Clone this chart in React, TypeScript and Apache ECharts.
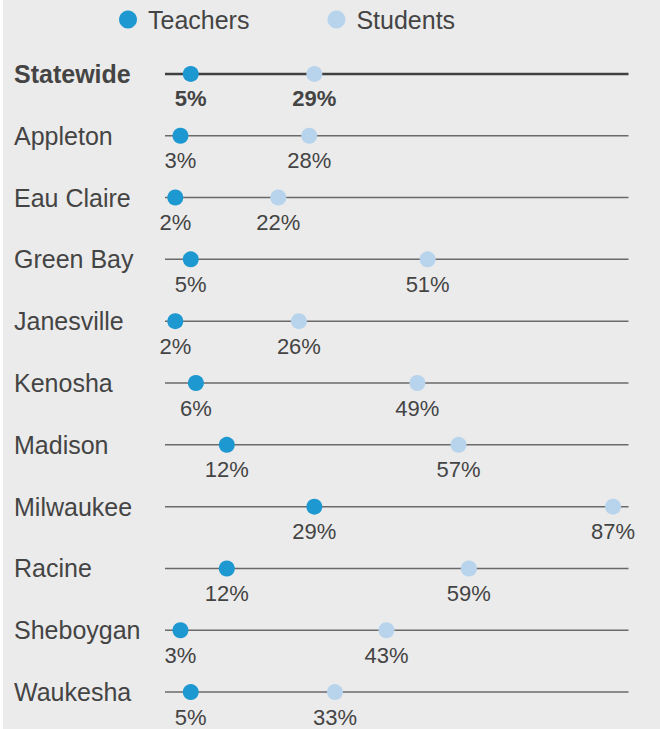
import React, { useEffect, useRef } from "react";
import * as echarts from "echarts";

const categories = [
  "Statewide", "Appleton", "Eau Claire", "Green Bay", "Janesville", "Kenosha",
  "Madison", "Milwaukee", "Racine", "Sheboygan", "Waukesha",
];
const teachers = [5, 3, 2, 5, 2, 6, 12, 29, 12, 3, 5];
const students = [29, 28, 22, 51, 26, 49, 57, 87, 59, 43, 33];
const axisMax = 90;

const TEXT = "#444444";
const TEACH = "#1e98d0";
const STUD = "#b8d4ec";

export default function App() {
  const ref = useRef<HTMLDivElement>(null);
  useEffect(() => {
    document.body.style.margin = "0";
    const chart = echarts.init(ref.current!, undefined, { renderer: "svg" });
    const font = "Liberation Sans";
    const mkPoints = (vals: number[]) =>
      vals.map((v, i) => ({
        value: [v, categories[i]],
        label: i === 0 ? { fontWeight: "bold" } : undefined,
      }));
    chart.setOption({
      animation: false,
      textStyle: { fontFamily: font },
      legend: {
        top: 2,
        left: 111,
        icon: "circle",
        itemWidth: 18,
        itemHeight: 18,
        itemGap: 78,
        textStyle: { fontSize: 25, color: TEXT, fontFamily: font, padding: [0, 0, 0, 6] },
        data: ["Teachers", "Students"],
      },
      grid: { left: 162, top: 43, height: 680, width: 463.5 },
      xAxis: {
        type: "value",
        min: 0,
        max: axisMax,
        show: false,
      },
      yAxis: {
        type: "category",
        inverse: true,
        data: categories,
        axisLine: { show: false },
        axisTick: { show: false },
        splitLine: { show: false },
        axisLabel: {
          align: "left",
          margin: 151,
          fontSize: 25,
          color: TEXT,
          fontFamily: font,
          formatter: (v: string) => (v === "Statewide" ? `{b|${v}}` : v),
          rich: { b: { fontWeight: "bold", fontSize: 25, color: TEXT, fontFamily: font } },
        },
      },
      series: [
        {
          type: "custom",
          silent: true,
          z: 1,
          data: categories.map((c) => [axisMax, c]),
          renderItem: (params: any, api: any) => {
            const idx = params.dataIndex;
            const p0 = api.coord([0, categories[idx]]);
            const p1 = api.coord([api.value(0), categories[idx]]);
            return {
              type: "line",
              shape: { x1: p0[0], y1: p0[1], x2: p1[0], y2: p1[1] },
              style: {
                stroke: idx === 0 ? "#404040" : "#6a6a6a",
                lineWidth: idx === 0 ? 2.5 : 1.5,
              },
            };
          },
        },
        {
          name: "Teachers",
          type: "scatter",
          z: 3,
          symbol: "circle",
          symbolSize: 16,
          itemStyle: { color: TEACH, opacity: 1 },
          label: {
            show: true,
            position: "bottom",
            distance: 6,
            fontSize: 22,
            color: TEXT,
            fontFamily: font,
            formatter: (p: any) => `${p.value[0]}%`,
          },
          data: mkPoints(teachers),
        },
        {
          name: "Students",
          type: "scatter",
          z: 3,
          symbol: "circle",
          symbolSize: 16,
          itemStyle: { color: STUD, opacity: 1 },
          label: {
            show: true,
            position: "bottom",
            distance: 6,
            fontSize: 22,
            color: TEXT,
            fontFamily: font,
            formatter: (p: any) => `${p.value[0]}%`,
          },
          data: mkPoints(students),
        },
      ],
    });
    return () => chart.dispose();
  }, []);
  return (
    <div style={{ width: 660, height: 729, background: "#ebebeb", borderLeft: "3px solid #ffffff", boxSizing: "border-box" }}>
      <div ref={ref} style={{ width: 657, height: 729 }} />
    </div>
  );
}
